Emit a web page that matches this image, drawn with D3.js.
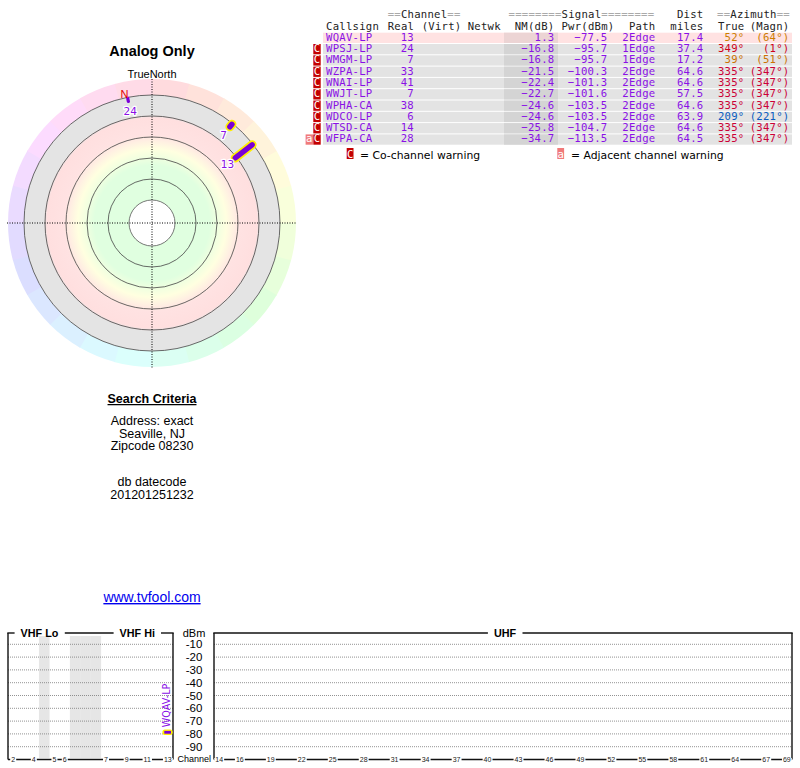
<!DOCTYPE html>
<html><head><meta charset="utf-8">
<script src="https://cdn.jsdelivr.net/npm/d3@7"></script>
<style>body{margin:0;background:#fff} svg{display:block}</style>
</head><body>
<svg id="c" width="800" height="768"></svg>
<script>
// ---------------- DATA ----------------
const callsigns = ["WQAV-LP","WPSJ-LP","WMGM-LP","WZPA-LP","WNAI-LP","WWJT-LP","WPHA-CA","WDCO-LP","WTSD-CA","WFPA-CA"];
const realCh    = [13,24,7,33,41,7,38,6,14,28];
const nmDb      = [1.3,-16.8,-16.8,-21.5,-22.4,-22.7,-24.6,-24.6,-25.8,-34.7];
const pwrDbm    = [-77.5,-95.7,-95.7,-100.3,-101.3,-101.6,-103.5,-103.5,-104.7,-113.5];
const pathType  = ["2Edge","1Edge","1Edge","2Edge","2Edge","2Edge","2Edge","2Edge","2Edge","2Edge"];
const distMiles = [17.4,37.4,17.2,64.6,64.6,57.5,64.6,63.9,64.6,64.5];
const azTrue    = [52,349,39,335,335,335,335,209,335,335];
const azMagn    = [64,1,51,347,347,347,347,221,347,347];
const coWarn    = [false,true,true,true,true,true,true,true,true,true];
const adjWarn   = [false,false,false,false,false,false,false,false,false,true];

const searchLines = ["Address: exact","Seaville, NJ","Zipcode 08230"];
const dbLines = ["db datecode","201201251232"];

const dbmTicks = [-10,-20,-30,-40,-50,-60,-70,-80,-90];
const vhfSlots = ["2","3","4","gapA","5","6","gapB","gapC","gapD","7","8","9","10","11","12","13"];
const vhfGaps = ["gapA","gapB","gapC","gapD"];
const vhfTickLabels = ["2","4","5","6","7","9","11","13"];
const uhfChannels = ["14","15","16","17","18","19","20","21","22","23","24","25","26","27","28","29","30","31","32","33","34","35","36","37","38","39","40","41","42","43","44","45","46","47","48","49","50","51","52","53","54","55","56","57","58","59","60","61","62","63","64","65","66","67","68","69"];
const uhfTickLabels = ["14","16","19","22","25","28","31","34","37","40","43","46","49","52","55","58","61","64","67","69"];
const ringLevels = [-21,0,21,42,63];   // NM dB rings
const holeLevel = 84;
const outerLevel = -37;
const markStart = -20;

// ---------------- SETUP ----------------
const svg = d3.select("#c");
const PURPLE = "#8a10e6";
const SANS = "'Liberation Sans', Arial, sans-serif";
const DJ = "'DejaVu Sans', sans-serif";
const MONO = "'DejaVu Sans Mono', monospace";

// ---------------- POLAR PLOT ----------------
const cx = 152, cy = 223;
const rNM = d3.scaleLinear().domain([-21, 0]).range([128, 107]);
const aScale = d3.scaleLinear().domain([0, 360]).range([0, 2 * Math.PI]);
const polar = (az, r) => [cx + r * Math.sin(aScale(az)), cy - r * Math.cos(aScale(az))];

const gPolar = svg.append("g");
// outer hue ring
const wedgeStarts = d3.range(0, 360, 15);
const arc = d3.arc().innerRadius(rNM(-21)).outerRadius(rNM(outerLevel));
gPolar.selectAll("path.wedge").data(wedgeStarts).join("path")
  .attr("transform", `translate(${cx},${cy})`)
  .attr("d", a => arc({startAngle: aScale(a), endAngle: aScale(a + 15.3)}))
  .attr("fill", a => d3.hsl((a + 7.5 - 12 + 360) % 360, 1, 0.93).formatHex());

// inner gradient disk
const defs = svg.append("defs");
const grad = defs.append("radialGradient").attr("id", "rg")
  .attr("gradientUnits", "userSpaceOnUse").attr("cx", cx).attr("cy", cy).attr("r", rNM(-21));
[[0, "#e0ffe0"], [0.45, "#e0ffe0"], [0.53, "#f4ffe0"], [0.58, "#ffffe0"], [0.64, "#fff0e2"],
 [0.69, "#ffe2e2"], [0.82, "#ffdfdf"], [0.845, "#e4e4e4"], [1, "#e4e4e4"]]
  .forEach(([o, c]) => grad.append("stop").attr("offset", o).attr("stop-color", c));
gPolar.append("circle").attr("cx", cx).attr("cy", cy).attr("r", rNM(-21)).attr("fill", "url(#rg)");
gPolar.append("circle").attr("cx", cx).attr("cy", cy).attr("r", rNM(holeLevel))
  .attr("fill", "#fff").attr("stroke", "#555").attr("stroke-width", 0.8);
gPolar.selectAll("circle.ring").data(ringLevels).join("circle")
  .attr("cx", cx).attr("cy", cy).attr("r", d => rNM(d))
  .attr("fill", "none").attr("stroke", "#444").attr("stroke-width", 0.8);

// dotted axes
gPolar.append("line").attr("x1", cx).attr("x2", cx).attr("y1", 79).attr("y2", cy + rNM(outerLevel) + 1)
  .attr("stroke", "#000").attr("stroke-dasharray", "1,1.5");
gPolar.append("line").attr("x1", cx - rNM(outerLevel) - 1).attr("x2", cx + rNM(outerLevel) + 1).attr("y1", cy).attr("y2", cy)
  .attr("stroke", "#000").attr("stroke-dasharray", "1,1.5");

// station marks
const stations = callsigns.map((c, i) => ({c, ch: realCh[i], nm: nmDb[i], az: azTrue[i]})).filter(d => d.nm > markStart);
const gMarks = gPolar.append("g");
stations.slice().reverse().forEach(d => {
  const p0 = polar(d.az, rNM(markStart)), p1 = polar(d.az, rNM(d.nm));
  const hi = d.ch <= 13;
  if (hi) gMarks.append("line").attr("x1", p0[0]).attr("y1", p0[1]).attr("x2", p1[0]).attr("y2", p1[1])
    .attr("stroke", "#ffee00").attr("stroke-width", 9).attr("stroke-linecap", "round");
  gMarks.append("line").attr("x1", p0[0]).attr("y1", p0[1]).attr("x2", p1[0]).attr("y2", p1[1])
    .attr("stroke", "#7a00d8").attr("stroke-width", hi ? 5.5 : 3.2).attr("stroke-linecap", "round");
});
// magnetic north
const decl = azMagn[0] - azTrue[0];
const pN = polar(360 - decl, 132);
gPolar.append("text").attr("x", pN[0]).attr("y", pN[1] + 4).attr("text-anchor", "middle")
  .attr("font-family", SANS).attr("font-size", 11).attr("fill", "#e00000").text("N");
// labels
stations.forEach(d => {
  const p = polar(d.az, rNM(d.nm) - 10);
  gMarks.append("text").attr("x", p[0]).attr("y", p[1] + 4).attr("text-anchor", "middle")
    .attr("font-family", DJ).attr("font-size", 10.5).attr("fill", PURPLE)
    .attr("stroke", "#fff").attr("stroke-width", 2.5).attr("paint-order", "stroke").attr("stroke-linejoin", "round")
    .text(d.ch);
});

svg.append("text").attr("x", 152).attr("y", 78).attr("text-anchor", "middle")
  .attr("font-family", SANS).attr("font-size", 11).attr("fill", "#000").text("TrueNorth");
svg.append("text").attr("x", 152).attr("y", 56).attr("text-anchor", "middle")
  .attr("font-family", SANS).attr("font-size", 14.5).attr("font-weight", "bold").attr("fill", "#000").text("Analog Only");

// ---------------- LEFT TEXT ----------------
svg.append("text").attr("x", 152).attr("y", 403).attr("text-anchor", "middle")
  .attr("font-family", SANS).attr("font-size", 12.5).attr("font-weight", "bold")
  .attr("text-decoration", "underline").text("Search Criteria");
searchLines.forEach((t, i) => svg.append("text").attr("x", 152).attr("y", 425 + i * 12.6)
  .attr("text-anchor", "middle").attr("font-family", SANS).attr("font-size", 12.5).text(t));
dbLines.forEach((t, i) => svg.append("text").attr("x", 152).attr("y", 486 + i * 12.6)
  .attr("text-anchor", "middle").attr("font-family", SANS).attr("font-size", 12.5).text(t));
svg.append("text").attr("x", 152).attr("y", 602).attr("text-anchor", "middle")
  .attr("font-family", SANS).attr("font-size", 14).attr("fill", "#0000ee")
  .attr("text-decoration", "underline").text("www.tvfool.com");

// ---------------- TABLE ----------------
const gT = svg.append("g").attr("font-family", MONO).attr("font-size", 10.6).attr("letter-spacing", 0.25);
const HDR = "#222", EQ = "#aaa";
function hdrGroup(x, y, parts, anchor) {
  const t = gT.append("text").attr("x", x).attr("y", y).attr("text-anchor", anchor || "start");
  parts.forEach(([s, c]) => t.append("tspan").attr("fill", c).text(s));
}
hdrGroup(387.7, 17.5, [["==", EQ], ["Channel", HDR], ["==", EQ]]);
hdrGroup(508.5, 17.5, [["========", EQ], ["Signal", HDR], ["========", EQ]]);
hdrGroup(717, 17.5, [["==", EQ], ["Azimuth", HDR], ["==", EQ]]);
const hdr2 = [["Callsign", 326, "start"], ["Real", 387.7, "start"], ["(Virt)", 421.7, "start"], ["Netwk", 467.7, "start"],
  ["NM(dB)", 554.5, "end"], ["Pwr(dBm)", 614.5, "end"], ["Path", 655.5, "end"], ["miles", 703.5, "end"],
  ["True", 744.5, "end"], ["(Magn)", 789.5, "end"]];
hdr2.forEach(([s, x, a]) => gT.append("text").attr("x", x).attr("y", 29.5).attr("text-anchor", a).attr("fill", HDR).text(s));
gT.append("text").attr("x", 703.5).attr("y", 17.5).attr("text-anchor", "end").attr("fill", HDR).text("Dist");

const azColor = d3.scaleLinear().domain([0, 35, 60, 209, 335, 360])
  .range(["#d40000", "#cc6e00", "#cc8400", "#0a5cc0", "#cc0036", "#d40000"]);
const rowTop = i => 32.7 + i * 11.3;
const fmt1 = d3.format(".1f");
callsigns.forEach((c, i) => {
  const y0 = rowTop(i), yb = y0 + 8;
  const pink = nmDb[i] > 0;
  gT.append("rect").attr("x", 323).attr("y", y0).attr("width", 469).attr("height", 10.3)
    .attr("fill", pink ? "#ffe2e2" : "#e3e3e3");
  gT.append("rect").attr("x", 504).attr("y", y0).attr("width", 54).attr("height", 10.3)
    .attr("fill", pink ? "#ecd4d4" : "#d4d4d4");
  if (coWarn[i]) {
    gT.append("rect").attr("x", 313.3).attr("y", y0).attr("width", 7.4).attr("height", 10.3).attr("fill", "#c40000");
    gT.append("text").attr("x", 317).attr("y", yb).attr("text-anchor", "middle").attr("fill", "#fff").attr("letter-spacing", 0).text("C");
  }
  if (adjWarn[i]) {
    gT.append("rect").attr("x", 305.6).attr("y", y0).attr("width", 7.4).attr("height", 10.3).attr("fill", "#f07a7a");
    gT.append("text").attr("x", 309.3).attr("y", yb).attr("text-anchor", "middle").attr("fill", "#fff").attr("letter-spacing", 0).text("a");
  }
  const cells = [[c, 326, "start", PURPLE], [realCh[i], 414, "end", PURPLE], [fmt1(nmDb[i]), 554.5, "end", PURPLE],
    [fmt1(pwrDbm[i]), 607.5, "end", PURPLE], [pathType[i], 655.5, "end", PURPLE], [fmt1(distMiles[i]), 703.5, "end", PURPLE],
    [azTrue[i] + "°", 744.5, "end", azColor(azTrue[i])], ["(" + azMagn[i] + "°)", 789.5, "end", azColor(azTrue[i])]];
  cells.forEach(([s, x, a, col]) => gT.append("text").attr("x", x).attr("y", yb).attr("text-anchor", a).attr("fill", col).text(s));
});
// legend
const gL = svg.append("g");
gL.append("rect").attr("x", 346.7).attr("y", 148).attr("width", 6.8).attr("height", 11).attr("fill", "#c40000");
gL.append("text").attr("x", 350.1).attr("y", 157.5).attr("text-anchor", "middle").attr("font-family", MONO)
  .attr("font-size", 10.6).attr("fill", "#fff").text("C");
gL.append("text").attr("x", 360).attr("y", 159).attr("font-family", DJ).attr("font-size", 10.8).attr("fill", "#000")
  .text("= Co-channel warning");
gL.append("rect").attr("x", 557.3).attr("y", 148).attr("width", 6.8).attr("height", 11).attr("fill", "#f07a7a");
gL.append("text").attr("x", 560.7).attr("y", 157.5).attr("text-anchor", "middle").attr("font-family", MONO)
  .attr("font-size", 10.6).attr("fill", "#fff").text("a");
gL.append("text").attr("x", 571).attr("y", 159).attr("font-family", DJ).attr("font-size", 10.8).attr("fill", "#000")
  .text("= Adjacent channel warning");

// ---------------- SPECTRUM ----------------
const yDbm = d3.scaleLinear().domain([0, -100]).range([631.5, 759.5]);
const vhfX = d3.scaleBand().domain(vhfSlots).range([8, 173]);
const uhfX = d3.scaleBand().domain(uhfChannels).range([214, 792]);
const gS = svg.append("g");
const topY = 633, axY = yDbm(-100);

// gaps
vhfGaps.forEach(g => gS.append("rect").attr("x", vhfX(g)).attr("y", topY + 3).attr("width", vhfX.bandwidth() + 0.3)
  .attr("height", axY - topY - 4.5).attr("fill", "#e6e6e6"));
// grid
[[8, 173], [214, 792]].forEach(([x0, x1]) => {
  gS.selectAll(null).data(dbmTicks).join("line")
    .attr("x1", x0).attr("x2", x1).attr("y1", d => yDbm(d)).attr("y2", d => yDbm(d))
    .attr("stroke", "#777").attr("stroke-width", 0.8).attr("stroke-dasharray", "1,1");
});
// frames
function framePanel(x0, x1, labels) {
  gS.append("line").attr("x1", x0).attr("x2", x0).attr("y1", topY).attr("y2", axY).attr("stroke", "#111").attr("stroke-width", 1.4);
  gS.append("line").attr("x1", x1).attr("x2", x1).attr("y1", topY).attr("y2", axY).attr("stroke", "#111").attr("stroke-width", 1.4);
  let cur = x0 - 0.7;
  labels.forEach(([t, xc]) => {
    const tx = gS.append("text").attr("x", xc).attr("y", 636.5).attr("text-anchor", "middle")
      .attr("font-family", SANS).attr("font-size", 10.8).attr("font-weight", "bold").text(t);
    const bb = tx.node().getBBox();
    gS.append("line").attr("x1", cur).attr("x2", bb.x - 6).attr("y1", topY).attr("y2", topY).attr("stroke", "#111").attr("stroke-width", 1.4);
    cur = bb.x + bb.width + 6;
  });
  gS.append("line").attr("x1", cur).attr("x2", x1 + 0.7).attr("y1", topY).attr("y2", topY).attr("stroke", "#111").attr("stroke-width", 1.4);
}
framePanel(8, 173, [["VHF Lo", 39.5], ["VHF Hi", 137.3]]);
framePanel(214, 792, [["UHF", 505]]);
// bottom axis with labels
function axisPanel(x0, x1, scale, labs) {
  gS.append("line").attr("x1", x0).attr("x2", x1).attr("y1", axY).attr("y2", axY).attr("stroke", "#111").attr("stroke-width", 1.3);
  labs.forEach(l => {
    const xc = scale(l) + scale.bandwidth() / 2;
    const t = gS.append("text").attr("x", xc).attr("y", axY + 2.5).attr("text-anchor", "middle")
      .attr("font-family", SANS).attr("font-size", 7).attr("fill", "#222").text(l);
    const bb = t.node().getBBox();
    gS.insert("rect", () => t.node()).attr("x", bb.x - 1).attr("y", axY - 1.5).attr("width", bb.width + 2).attr("height", 3).attr("fill", "#fff");
  });
}
axisPanel(8, 173, vhfX, vhfTickLabels);
axisPanel(214, 792, uhfX, uhfTickLabels);
// dBm labels
gS.append("text").attr("x", 194).attr("y", 636.5).attr("text-anchor", "middle").attr("font-family", SANS).attr("font-size", 11).text("dBm");
gS.selectAll(null).data(dbmTicks).join("text")
  .attr("x", 194).attr("y", d => yDbm(d) + 4).attr("text-anchor", "middle")
  .attr("font-family", SANS).attr("font-size", 11.5).text(d => d);
gS.append("text").attr("x", 194.3).attr("y", 762).attr("text-anchor", "middle").attr("font-family", SANS).attr("font-size", 9).text("Channel");

// spectrum station bars
callsigns.forEach((c, i) => {
  if (nmDb[i] < 0) return;
  const ch = String(realCh[i]);
  const sc = realCh[i] <= 13 ? vhfX : uhfX;
  const x = sc(ch), w = sc.bandwidth(), y = yDbm(pwrDbm[i]);
  gS.append("rect").attr("x", x - 0.3).attr("y", y - 1.2).attr("width", w).attr("height", 5.5).attr("rx", 2.5)
    .attr("fill", "#ffee00");
  gS.append("rect").attr("x", x + 1.6).attr("y", y + 0.2).attr("width", w - 3.6).attr("height", 2.8).attr("fill", "#7a00d8");
  gS.append("text").attr("transform", `translate(${x + w / 2 - 1},${y - 3.5}) rotate(-90)`)
    .attr("dominant-baseline", "central").attr("font-family", DJ).attr("font-size", 9.6).attr("fill", PURPLE).text(c);
});
</script></body></html>
